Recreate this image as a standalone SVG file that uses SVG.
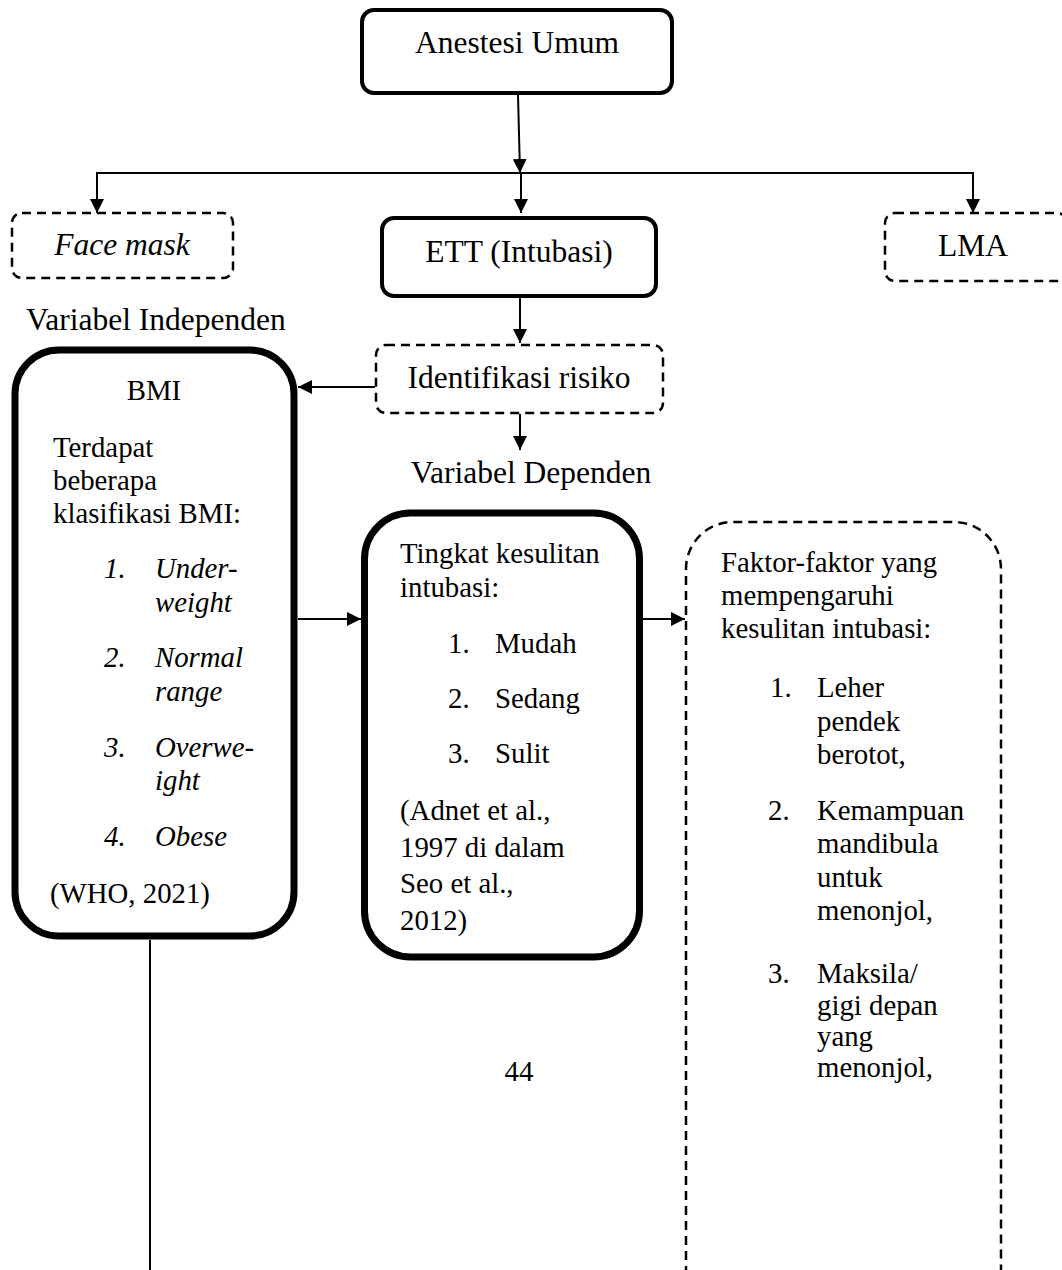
<svg xmlns="http://www.w3.org/2000/svg" width="1062" height="1270" viewBox="0 0 1062 1270">
<style>
text{font-family:"Liberation Serif","Times New Roman",serif;fill:#000}
.lg{font-size:31.5px}
.sm{font-size:28.8px}
.it{font-style:italic}
.mid{text-anchor:middle}
.box{fill:#fff;stroke:#000;stroke-width:4}
.thick{fill:#fff;stroke:#000;stroke-width:7}
.dash{fill:none;stroke:#000;stroke-width:2.5;stroke-dasharray:9 6}
.con{fill:none;stroke:#000;stroke-width:2}
</style>
<defs>
<marker id="ah" markerUnits="userSpaceOnUse" markerWidth="14" markerHeight="14" refX="14" refY="7" orient="auto">
<path d="M0,0 L14,7 L0,14 z" fill="#000"/>
</marker>
</defs>
<rect width="1062" height="1270" fill="#fff"/>

<g id="connectors">
<line class="con" x1="518" y1="95" x2="520" y2="173" marker-end="url(#ah)"/>
<line class="con" x1="97" y1="173" x2="973" y2="173"/>
<line class="con" x1="97" y1="172" x2="97" y2="213" marker-end="url(#ah)"/>
<line class="con" x1="521" y1="172" x2="521" y2="213" marker-end="url(#ah)"/>
<line class="con" x1="973" y1="172" x2="973" y2="213" marker-end="url(#ah)"/>
<line class="con" x1="520" y1="298" x2="520" y2="343" marker-end="url(#ah)"/>
<line class="con" x1="520" y1="414" x2="520" y2="450" marker-end="url(#ah)"/>
<line class="con" x1="375" y1="387" x2="298" y2="387" marker-end="url(#ah)"/>
<line class="con" x1="298" y1="619" x2="361" y2="619" marker-end="url(#ah)"/>
<line class="con" x1="643" y1="619" x2="685" y2="619" marker-end="url(#ah)"/>
<line class="con" x1="150" y1="940" x2="150" y2="1270"/>
</g>

<g id="anestesi">
<rect class="box" x="362" y="10" width="310" height="83" rx="12"/>
<text class="lg mid" x="517" y="53">Anestesi Umum</text>
</g>

<g id="facemask">
<rect class="dash" x="12" y="213" width="221" height="65" rx="10"/>
<text class="lg mid it" x="122" y="255">Face mask</text>
</g>

<g id="ett">
<rect class="box" x="382" y="218" width="274" height="78" rx="12"/>
<text class="lg mid" x="519" y="262">ETT (Intubasi)</text>
</g>

<g id="lma">
<rect class="dash" x="885" y="213" width="182" height="68" rx="10"/>
<text class="lg mid" x="973" y="256">LMA</text>
</g>

<g id="label-independen">
<text class="lg" x="26" y="330">Variabel Independen</text>
</g>

<g id="identifikasi">
<rect class="dash" x="376" y="345" width="287" height="68" rx="10"/>
<text class="lg mid" x="519" y="388">Identifikasi risiko</text>
</g>

<g id="label-dependen">
<text class="lg mid" x="531" y="483">Variabel Dependen</text>
</g>

<g id="bmi">
<rect class="thick" x="15" y="350" width="279" height="586" rx="44"/>
<text class="sm mid" x="154" y="400">BMI</text>
<text class="sm" x="53" y="457">Terdapat</text>
<text class="sm" x="53" y="490">beberapa</text>
<text class="sm" x="53" y="523">klasifikasi BMI:</text>
<g class="sm it">
<text x="104" y="578">1.</text><text x="155" y="578">Under-</text>
<text x="155" y="612">weight</text>
<text x="104" y="667">2.</text><text x="155" y="667">Normal</text>
<text x="155" y="701">range</text>
<text x="104" y="757">3.</text><text x="155" y="757">Overwe-</text>
<text x="155" y="790">ight</text>
<text x="104" y="846">4.</text><text x="155" y="846">Obese</text>
</g>
<text class="sm" x="50" y="903">(WHO, 2021)</text>
</g>

<g id="tingkat">
<rect class="thick" x="364.5" y="513" width="275" height="444" rx="46"/>
<text class="sm" x="400" y="563">Tingkat kesulitan</text>
<text class="sm" x="400" y="597">intubasi:</text>
<text class="sm" x="448" y="653">1.</text><text class="sm" x="495" y="653">Mudah</text>
<text class="sm" x="448" y="708">2.</text><text class="sm" x="495" y="708">Sedang</text>
<text class="sm" x="448" y="763">3.</text><text class="sm" x="495" y="763">Sulit</text>
<text class="sm" x="400" y="820">(Adnet et al.,</text>
<text class="sm" x="400" y="857">1997 di dalam</text>
<text class="sm" x="400" y="893">Seo et al.,</text>
<text class="sm" x="400" y="930">2012)</text>
</g>

<g id="faktor">
<path class="dash" d="M686,1275 L686,569 A47,47 0 0 1 733,522 L954,522 A47,47 0 0 1 1001,569 L1001,1275"/>
<text class="sm" x="721" y="572">Faktor-faktor yang</text>
<text class="sm" x="721" y="605">mempengaruhi</text>
<text class="sm" x="721" y="638">kesulitan intubasi:</text>
<text class="sm" x="770" y="697">1.</text><text class="sm" x="817" y="697">Leher</text>
<text class="sm" x="817" y="731">pendek</text>
<text class="sm" x="817" y="764">berotot,</text>
<text class="sm" x="768" y="820">2.</text><text class="sm" x="817" y="820">Kemampuan</text>
<text class="sm" x="817" y="853">mandibula</text>
<text class="sm" x="817" y="887">untuk</text>
<text class="sm" x="817" y="920">menonjol,</text>
<text class="sm" x="768" y="983">3.</text><text class="sm" x="817" y="983">Maksila/</text>
<text class="sm" x="817" y="1015">gigi depan</text>
<text class="sm" x="817" y="1046">yang</text>
<text class="sm" x="817" y="1077">menonjol,</text>
</g>

<g id="page-number">
<text class="sm mid" x="519" y="1081">44</text>
</g>
</svg>
